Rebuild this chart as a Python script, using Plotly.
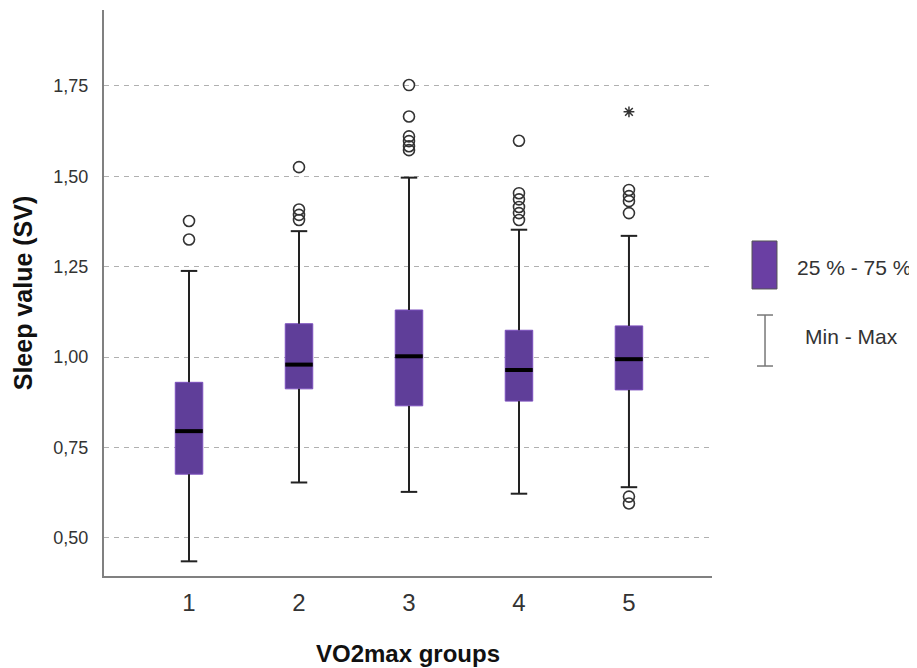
import plotly.graph_objects as go

# ---------------- data ----------------
groups = ["1", "2", "3", "4", "5"]
positions = [1, 2, 3, 4, 5]
q1 = [0.676, 0.912, 0.865, 0.878, 0.909]
medians = [0.795, 0.979, 1.002, 0.964, 0.994]
q3 = [0.930, 1.092, 1.130, 1.074, 1.086]
whisker_low = [0.435, 0.653, 0.627, 0.622, 0.640]
whisker_high = [1.238, 1.348, 1.496, 1.352, 1.335]

outliers_g1 = [1.376, 1.325]
outliers_g2 = [1.525, 1.408, 1.393, 1.379]
outliers_g3 = [1.752, 1.665, 1.610, 1.597, 1.583, 1.572]
outliers_g4 = [1.598, 1.453, 1.436, 1.415, 1.398, 1.379]
outliers_g5 = [1.462, 1.445, 1.431, 1.398, 0.614, 0.595]
extremes_g5 = [1.678]

y_tickvals = [0.50, 0.75, 1.00, 1.25, 1.50, 1.75]
y_ticktext = ["0,50", "0,75", "1,00", "1,25", "1,50", "1,75"]

legend_box_label = "25 % - 75 %"
legend_range_label = "Min - Max"
x_title = "VO2max groups"
y_title = "Sleep value (SV)"

# ---------------- style ----------------
FONT = "Arial, 'Liberation Sans', sans-serif"
BOX_W = 0.25
CAP_W = 0.15
FILL = "#5f3e99"
EDGE = "#7b4fbd"
INK = "#222222"

fig = go.Figure()

# boxes (body)
fig.add_trace(go.Box(
    x=positions, q1=q1, median=medians, q3=q3,
    lowerfence=whisker_low, upperfence=whisker_high,
    width=BOX_W, whiskerwidth=0, boxpoints=False,
    fillcolor=FILL, line=dict(color=EDGE, width=1),
    showlegend=False, hoverinfo="skip",
))

# whiskers and caps
wx, wy = [], []
for x, lo, a, b, hi in zip(positions, whisker_low, q1, q3, whisker_high):
    wx += [x, x, None, x, x, None,
           x - CAP_W / 2, x + CAP_W / 2, None, x - CAP_W / 2, x + CAP_W / 2, None]
    wy += [b, hi, None, lo, a, None, hi, hi, None, lo, lo, None]
fig.add_trace(go.Scatter(x=wx, y=wy, mode="lines",
                         line=dict(color=INK, width=2),
                         showlegend=False, hoverinfo="skip"))

# medians
mx, my = [], []
for x, m in zip(positions, medians):
    mx += [x - BOX_W / 2, x + BOX_W / 2, None]
    my += [m, m, None]
fig.add_trace(go.Scatter(x=mx, y=my, mode="lines",
                         line=dict(color="black", width=4),
                         showlegend=False, hoverinfo="skip"))

# outliers
all_out = [outliers_g1, outliers_g2, outliers_g3, outliers_g4, outliers_g5]
ox, oy = [], []
for x, vals in zip(positions, all_out):
    ox += [x] * len(vals)
    oy += vals
fig.add_trace(go.Scatter(x=ox, y=oy, mode="markers",
                         marker=dict(symbol="circle-open", size=11,
                                     color="#333333", line=dict(width=1.6)),
                         showlegend=False, hoverinfo="skip"))

# extreme values
fig.add_trace(go.Scatter(x=[positions[4]] * len(extremes_g5), y=extremes_g5,
                         mode="markers",
                         marker=dict(symbol="asterisk-open", size=9,
                                     color="#333333", line=dict(width=1.5)),
                         showlegend=False, hoverinfo="skip"))

# ---------------- custom legend ----------------
shapes = [
    dict(type="rect", xref="paper", yref="paper",
         x0=1.0658, x1=1.1069, y0=0.5071, y1=0.5919,
         fillcolor="#6a3fa3", line=dict(color="#555555", width=1)),
    dict(type="line", xref="paper", yref="paper",
         x0=1.0872, x1=1.0872, y0=0.3710, y1=0.4611,
         line=dict(color="#777777", width=1.5)),
    dict(type="line", xref="paper", yref="paper",
         x0=1.0740, x1=1.1003, y0=0.4611, y1=0.4611,
         line=dict(color="#777777", width=1.5)),
    dict(type="line", xref="paper", yref="paper",
         x0=1.0740, x1=1.1003, y0=0.3710, y1=0.3710,
         line=dict(color="#777777", width=1.5)),
]
annotations = [
    dict(text=legend_box_label, xref="paper", yref="paper",
         x=1.1365, y=0.5442, xanchor="left", yanchor="middle",
         showarrow=False, font=dict(family=FONT, size=21, color="#333333")),
    dict(text=legend_range_label, xref="paper", yref="paper",
         x=1.1497, y=0.4223, xanchor="left", yanchor="middle",
         showarrow=False, font=dict(family=FONT, size=21, color="#333333")),
]

# the page body adds an 8px offset, so the figure is 8px smaller than the window
fig.update_layout(
    width=909, height=660,
    margin=dict(l=96, r=205, t=2, b=92),
    paper_bgcolor="white", plot_bgcolor="white",
    font=dict(family=FONT, color="#333333"),
    shapes=shapes, annotations=annotations,
    showlegend=False,
)

fig.update_xaxes(
    range=[0.227, 5.755],
    tickmode="array", tickvals=positions, ticktext=groups,
    tickfont=dict(family=FONT, size=24, color="#333333"),
    ticks="", showgrid=False, zeroline=False,
    showline=True, linecolor="#808080", linewidth=2,
    ticklabelstandoff=4,
    title=dict(text=f"<b>{x_title}</b>", font=dict(family=FONT, size=24, color="#111111"),
               standoff=30),
)
fig.update_yaxes(
    range=[0.3944, 1.9596],
    tickmode="array", tickvals=y_tickvals, ticktext=y_ticktext,
    tickfont=dict(family=FONT, size=18, color="#333333"),
    ticks="", zeroline=False,
    showgrid=True, gridcolor="#b0b0b0", gridwidth=1, griddash="5px,5px",
    showline=True, linecolor="#808080", linewidth=2,
    ticklabelstandoff=10,
    title=dict(text=f"<b>{y_title}</b>", font=dict(family=FONT, size=25, color="#111111"),
               standoff=14),
)

fig.write_html("out.html")
